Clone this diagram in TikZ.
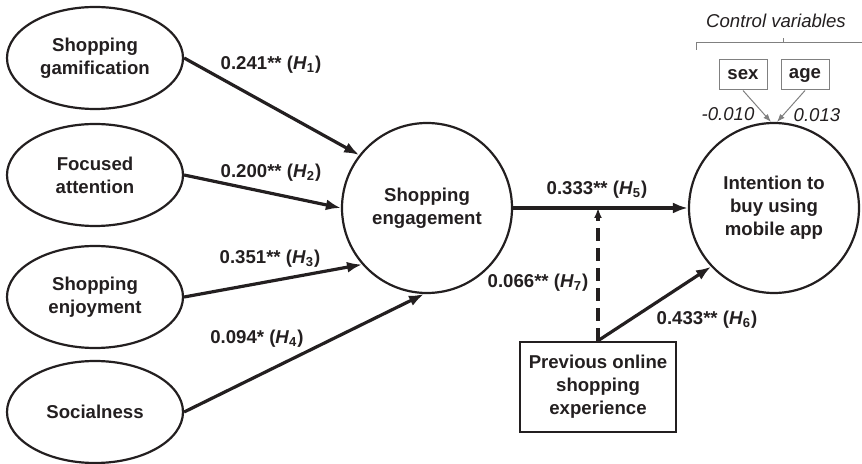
\documentclass[tikz,border=0pt]{standalone}
\usepackage{fontspec}
\setmainfont{Liberation Sans}
\usepackage{tikz}
\usetikzlibrary{shapes.geometric,arrows.meta}
\definecolor{ink}{RGB}{35,31,32}

\begin{document}
\begin{tikzpicture}[x=0.5pt, y=-0.5pt, ink, line width=1.1pt,
    font=\fontsize{9.3}{11.5}\selectfont\bfseries,
    latent/.style={draw, ellipse, minimum width=88pt, minimum height=51pt, inner sep=0pt, align=center},
    construct/.style={draw, circle, minimum size=85pt, inner sep=0pt, align=center},
    hyp/.style={-{Latex[length=7.5pt,width=5.5pt]}, line width=1.6pt},
    ctrlbox/.style={draw=gray, line width=0.5pt, minimum width=24pt, minimum height=15pt, inner sep=0pt},
    ctrl/.style={-{Latex[length=4pt,width=3pt]}, draw=gray, line width=0.5pt},
    coef/.style={inner sep=0pt}]
    \useasboundingbox (0,0) rectangle (862,464);

    % Antecedents
    \node[latent] (gam) at (95,58) {Shopping\\gamification};
    \node[latent] (att) at (95,175) {Focused\\attention};
    \node[latent] (enj) at (95,297) {Shopping\\enjoyment};
    \node[latent] (soc) at (95,412) {Socialness};

    % Mediator and outcome
    \node[construct] (eng) at (427,208) {Shopping\\engagement};
    \node[construct] (int) at (774,208) {Intention to\\buy using\\mobile app};

    % Moderator
    \node[draw, line width=1.3pt, minimum width=78pt, minimum height=45pt, inner sep=0pt, align=center] (exp) at (598,387) {Previous online\\shopping\\experience};

    % Control variables
    \node[font=\fontsize{9.3}{11}\selectfont\itshape] (ctl) at (776,21) {Control variables};
    \draw[gray, line width=0.5pt] (696,50) -- (696,43) -- (862,43);
    \draw[gray, line width=0.5pt] (783,43) -- (783,38);
    \node[ctrlbox] (sex) at (743,75) {sex};
    \node[ctrlbox] (age) at (805,75) {age};
    \draw[ctrl] (sex.south) -- (int.92);
    \draw[ctrl] (age.south) -- (int.88);
    \node[coef, font=\fontsize{9.3}{11}\selectfont\itshape] at (728,114) {-0.010};
    \node[coef, font=\fontsize{9.3}{11}\selectfont\itshape] at (817,115) {0.013};

    % Paths
    \draw[hyp] (gam.east) -- (eng.142);
    \draw[hyp] (att.east) -- (eng.180);
    \draw[hyp] (enj.east) -- (eng.221);
    \draw[hyp] (soc.east) -- (eng.268);
    \draw[hyp] (eng.east) -- (int.west);
    \draw[hyp] (exp.north) -- (int.223);
    \draw[hyp, -{Latex[length=5pt,width=4pt]}, dash pattern=on 6.5pt off 3.5pt] (exp.north) -- (exp.north |- eng.east);

    % Coefficients
    \node[coef] at (271,65) {0.241** (\textit{H}\textsubscript{1})};
    \node[coef] at (271,173) {0.200** (\textit{H}\textsubscript{2})};
    \node[coef] at (270,259) {0.351** (\textit{H}\textsubscript{3})};
    \node[coef] at (257,339) {0.094* (\textit{H}\textsubscript{4})};
    \node[coef] at (597,190) {0.333** (\textit{H}\textsubscript{5})};
    \node[coef] at (707,320) {0.433** (\textit{H}\textsubscript{6})};
    \node[coef] at (538,283) {0.066** (\textit{H}\textsubscript{7})};
\end{tikzpicture}
\end{document}
